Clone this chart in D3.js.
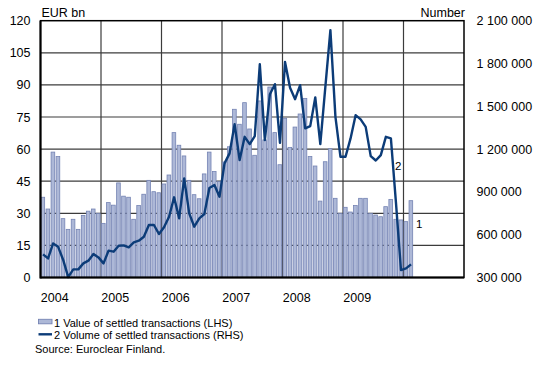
<!DOCTYPE html>
<html>
<head>
<meta charset="utf-8">
<script src="https://cdn.jsdelivr.net/npm/d3@7/dist/d3.min.js"></script>
<style>
  html, body { margin: 0; padding: 0; background: #fff; }
  svg { display: block; font-family: "Liberation Sans", Arial, sans-serif; }
</style>
</head>
<body>
<svg id="chart" width="535" height="368"></svg>
<script>
// Monthly settlement statistics, January 2004 – February 2010
const firstMonth = new Date(2004, 0, 1);
const yearLabels = ["2004", "2005", "2006", "2007", "2008", "2009"];
const leftTicks = [0, 15, 30, 45, 60, 75, 90, 105, 120];
const rightTicks = [300000, 600000, 900000, 1200000, 1500000, 1800000, 2100000];

// 1 Value of settled transactions, EUR bn (LHS)
const settledValue = [
  37.5, 32, 58.6, 56.5, 27.5, 22.5, 27.2, 22.5, 29, 31, 32, 30,
  25.3, 35, 33.8, 44.2, 38, 37.5, 27.2, 33.6, 38.9, 45.4, 40.1, 39.6,
  43.7, 47.9, 67.7, 61.8, 56.8, 45.4, 38.7, 36.8, 48.4, 58.6, 49.5, 44.8,
  54, 61.1, 78.6, 71.6, 81.7, 69.4, 57.1, 82.5, 64.3, 89, 67.7, 52.7,
  74.4, 60.8, 70.3, 76.4, 83.7, 56.5, 52.1, 35.7, 54.1, 60.2, 37, 30,
  32.8, 30.6, 33.6, 37, 37, 30, 29.2, 28.4, 33.1, 36.5, 27.2, 26.9,
  26.1, 35.9
];

// 2 Volume of settled transactions, number (RHS)
const settledVolume = [
  462000, 434000, 539000, 515000, 423000, 303000, 357000, 357000, 399000, 418000, 464000, 441000,
  399000, 488000, 481000, 523000, 525000, 511000, 546000, 558000, 586000, 668000, 668000, 605000,
  652000, 726000, 862000, 715000, 995000, 750000, 656000, 715000, 745000, 927000, 948000, 866000,
  1100000, 1170000, 1375000, 1123000, 1286000, 1235000, 1291000, 1795000, 1263000, 1585000, 1655000, 1244000,
  1811000, 1630000, 1550000, 1648000, 1345000, 1361000, 1562000, 1235000, 1636000, 2034000, 1426000, 1146000,
  1146000, 1275000, 1438000, 1408000, 1356000, 1151000, 1120000, 1158000, 1286000, 1275000, 827000, 352000,
  364000, 392000
];

const months = d3.timeMonth.range(firstMonth, d3.timeMonth.offset(firstMonth, settledValue.length));

const svg = d3.select("#chart");
const plot = { left: 40.5, right: 464, top: 20.7, bottom: 277.5 };

const x = d3.scaleLinear().domain([0, 84]).range([plot.left, plot.right]);
const yL = d3.scaleLinear().domain([0, 120]).range([plot.bottom, plot.top]);
const yR = d3.scaleLinear().domain([300000, 2100000]).range([plot.bottom, plot.top]);
const step = x(1) - x(0);

const barFill = "#adb8d7";
const barStroke = "#7483b3";
const lineColor = "#0c3c78";
const gridColor = "#3c3c3c";

// Grid behind the bars
const grid = svg.append("g");
grid.selectAll("line.h").data(leftTicks.slice(1, -1)).join("line")
  .attr("x1", plot.left).attr("x2", plot.right)
  .attr("y1", d => yL(d)).attr("y2", d => yL(d))
  .attr("stroke", gridColor).attr("stroke-width", 1.2);
grid.selectAll("line.v").data(d3.range(12, 84, 12)).join("line")
  .attr("x1", d => x(d)).attr("x2", d => x(d))
  .attr("y1", plot.top).attr("y2", plot.bottom)
  .attr("stroke", gridColor).attr("stroke-width", 1.2);

// Bars: value of settled transactions
svg.append("g").selectAll("rect").data(settledValue).join("rect")
  .attr("x", (d, i) => x(i) + 0.5)
  .attr("width", step - 1.4)
  .attr("y", d => yL(d))
  .attr("height", d => yL(0) - yL(d))
  .attr("fill", barFill)
  .attr("stroke", barStroke)
  .attr("stroke-width", 0.8);

// Line: volume of settled transactions
const line = d3.line()
  .x((d, i) => x(i + 0.5))
  .y(d => yR(d))
  .curve(d3.curveLinear);
svg.append("path").datum(settledVolume)
  .attr("d", line)
  .attr("fill", "none")
  .attr("stroke", lineColor)
  .attr("stroke-width", 2.4)
  .attr("stroke-linejoin", "round");

// Frame
svg.append("rect")
  .attr("x", plot.left).attr("y", plot.top)
  .attr("width", plot.right - plot.left).attr("height", plot.bottom - plot.top)
  .attr("fill", "none").attr("stroke", "#000").attr("stroke-width", 1.5);
svg.append("line")
  .attr("x1", plot.left).attr("x2", plot.left)
  .attr("y1", plot.top).attr("y2", plot.bottom + 1)
  .attr("stroke", "#000").attr("stroke-width", 2);
svg.append("line")
  .attr("x1", plot.left).attr("x2", plot.right)
  .attr("y1", plot.bottom).attr("y2", plot.bottom)
  .attr("stroke", "#000").attr("stroke-width", 2);

// Axes
const fs = "12.5px";
const leftAxis = d3.axisLeft(yL).tickValues(leftTicks).tickSize(0).tickPadding(10);
svg.append("g").attr("transform", `translate(${plot.left},0)`).call(leftAxis)
  .call(g => g.select(".domain").remove())
  .call(g => g.selectAll("text").attr("font-size", fs).attr("fill", "#000")
    .attr("font-family", "Liberation Sans, Arial, sans-serif"));

const fmtSpace = d => d3.format(",")(d).replace(/,/g, " ");
const rightAxis = d3.axisRight(yR).tickValues(rightTicks).tickSize(0).tickPadding(12.5).tickFormat(fmtSpace);
svg.append("g").attr("transform", `translate(${plot.right},0)`).call(rightAxis)
  .call(g => g.select(".domain").remove())
  .call(g => g.selectAll("text").attr("font-size", fs).attr("fill", "#000")
    .attr("font-family", "Liberation Sans, Arial, sans-serif"));

svg.append("g").selectAll("text").data(yearLabels).join("text")
  .attr("x", (d, i) => x(i * 12) + 0.3)
  .attr("y", 302)
  .attr("font-size", fs)
  .text(d => d);

// Unit labels
svg.append("text").attr("x", 41.5).attr("y", 17.3).attr("font-size", fs).text("EUR bn");
svg.append("text").attr("x", plot.right + 1).attr("y", 17.3).attr("font-size", fs)
  .attr("text-anchor", "end").text("Number");

// Series markers inside the plot
const lastIdx = settledValue.length - 1;
svg.append("text").attr("x", x(lastIdx + 1) + 2.5).attr("y", yL(settledValue[lastIdx]) + 27)
  .attr("font-size", "11.5px").text("1");
svg.append("text").attr("x", x(lastIdx - 3) + 1.5).attr("y", 169.5)
  .attr("font-size", "11.5px").text("2");

// Legend
const lg = svg.append("g").attr("font-size", "11px");
lg.append("rect").attr("x", 38.5).attr("y", 319.3).attr("width", 13.5).attr("height", 4.5)
  .attr("fill", barFill).attr("stroke", barStroke).attr("stroke-width", 0.9);
lg.append("text").attr("x", 54).attr("y", 326.5).text("1 Value of settled transactions (LHS)");
lg.append("line").attr("x1", 38.5).attr("x2", 52).attr("y1", 334.3).attr("y2", 334.3)
  .attr("stroke", lineColor).attr("stroke-width", 2.4);
lg.append("text").attr("x", 54).attr("y", 338.7).text("2 Volume of settled transactions (RHS)");
lg.append("text").attr("x", 35).attr("y", 352.5).text("Source: Euroclear Finland.");
</script>
</body>
</html>
